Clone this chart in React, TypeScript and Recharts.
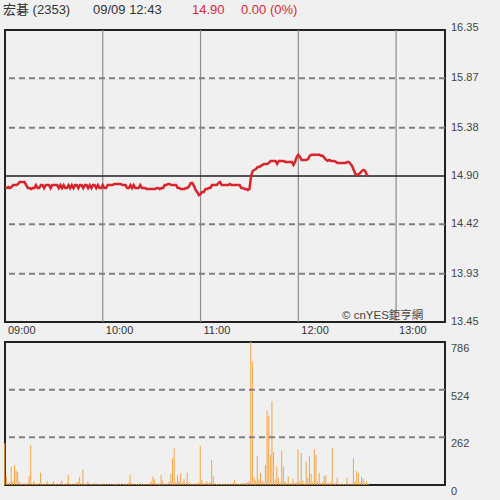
import { LineChart, Line, BarChart, Bar, XAxis, YAxis, ReferenceLine, ReferenceArea } from 'recharts';

// 開盤後分鐘數 (09:00 = 0)
const timeTicks = [0, 60, 120, 180, 240];
const timeLabels = ['09:00', '10:00', '11:00', '12:00', '13:00'];

const priceTicks = [13.45, 13.93, 14.42, 14.9, 15.38, 15.87, 16.35];
const priceDashed = [13.93, 14.42, 15.38, 15.87];
const refPrice = 14.9;

const volumeTicks = [0, 262, 524, 786];
const volumeDashed = [262, 524];

// 每分鐘成交價 09:00 ~ 12:43
const prices = [
  14.78, 14.78, 14.79, 14.78, 14.79, 14.81, 14.81, 14.81, 14.82, 14.84,
  14.84, 14.84, 14.84, 14.81, 14.78, 14.78, 14.77, 14.78, 14.78, 14.81,
  14.78, 14.78, 14.81, 14.81, 14.78, 14.81, 14.81, 14.81, 14.78, 14.81,
  14.81, 14.81, 14.81, 14.78, 14.81, 14.78, 14.81, 14.78, 14.78, 14.81,
  14.78, 14.81, 14.78, 14.81, 14.81, 14.78, 14.81, 14.81, 14.78, 14.81,
  14.81, 14.78, 14.81, 14.78, 14.81, 14.81, 14.78, 14.81, 14.78, 14.78,
  14.81, 14.78, 14.78, 14.81, 14.81, 14.81, 14.81, 14.82, 14.82, 14.82,
  14.82, 14.82, 14.81, 14.81, 14.81, 14.78, 14.78, 14.81, 14.78, 14.81,
  14.78, 14.78, 14.78, 14.81, 14.78, 14.78, 14.78, 14.77, 14.77, 14.77,
  14.77, 14.77, 14.77, 14.78, 14.78, 14.77, 14.78, 14.78, 14.81, 14.81,
  14.82, 14.82, 14.81, 14.81, 14.81, 14.81, 14.78, 14.78, 14.77, 14.77,
  14.77, 14.78, 14.78, 14.8, 14.83, 14.83, 14.8, 14.76, 14.74, 14.71,
  14.72, 14.74, 14.74, 14.77, 14.77, 14.78, 14.78, 14.81, 14.81, 14.81,
  14.81, 14.83, 14.84, 14.81, 14.81, 14.81, 14.81, 14.81, 14.82, 14.81,
  14.81, 14.81, 14.81, 14.81, 14.81, 14.78, 14.78, 14.77, 14.77, 14.76,
  14.77, 14.9, 14.95, 14.96, 14.97, 14.99, 14.99, 15.0, 15.01, 15.02,
  15.02, 15.02, 15.03, 15.05, 15.05, 15.05, 15.05, 15.02, 15.05, 15.05,
  15.05, 15.05, 15.04, 15.04, 15.04, 15.04, 15.04, 15.01, 15.04, 15.09,
  15.11, 15.09, 15.06, 15.06, 15.06, 15.06, 15.07, 15.1, 15.11, 15.11,
  15.11, 15.11, 15.11, 15.11, 15.1, 15.1, 15.08, 15.06, 15.05, 15.06,
  15.05, 15.05, 15.05, 15.04, 15.03, 15.03, 15.03, 15.03, 15.03, 15.03,
  15.04, 15.04, 15.02, 15.0, 14.96, 14.92, 14.91, 14.92, 14.93, 14.95,
  14.96, 14.95, 14.91, 14.9,
];

// 每分鐘成交量 (張)
const volumes = [
  230, 45, 10, 15, 100, 20, 110, 80, 70, 20,
  8, 5, 10, 6, 12, 50, 220, 10, 20, 8,
  5, 10, 68, 6, 8, 5, 20, 8, 6, 10,
  20, 5, 8, 6, 10, 25, 6, 5, 10, 55,
  8, 5, 6, 10, 12, 20, 45, 10, 86, 8,
  6, 20, 8, 5, 6, 10, 5, 4, 6, 5,
  8, 4, 5, 6, 3, 5, 4, 6, 5, 8,
  4, 5, 3, 6, 8, 5, 12, 55, 10, 5,
  4, 6, 5, 4, 8, 5, 6, 4, 5, 10,
  20, 48, 30, 8, 5, 10, 55, 25, 8, 6,
  10, 20, 60, 147, 200, 15, 55, 20, 65, 12,
  30, 10, 68, 15, 8, 6, 5, 10, 8, 12,
  214, 30, 10, 8, 20, 10, 15, 138, 50, 8,
  6, 5, 8, 6, 5, 4, 6, 5, 8, 6,
  10, 30, 8, 5, 6, 10, 8, 12, 10, 15,
  20, 786, 678, 40, 25, 160, 30, 65, 20, 15,
  110, 410, 380, 165, 462, 178, 30, 100, 40, 15,
  187, 100, 20, 10, 45, 8, 10, 35, 10, 15,
  196, 20, 176, 25, 10, 128, 40, 160, 60, 15,
  196, 165, 20, 68, 10, 15, 50, 55, 10, 8,
  12, 205, 10, 8, 40, 6, 5, 8, 5, 6,
  40, 8, 5, 10, 147, 20, 75, 65, 15, 45,
  35, 10, 20, 8,
];

const priceData = prices.map((p, i) => ({ t: i, p }));
const volumeData = volumes.map((v, i) => ({ t: i, v }));

const font = '"Liberation Sans", Arial, "Noto Sans CJK TC", sans-serif';

const TimeTick = ({ x, y, payload }: any) => (
  <text x={x + 3} y={y + 10} fontSize={11} fill="#333" fontFamily={font}>
    {timeLabels[timeTicks.indexOf(payload.value)]}
  </text>
);

const PriceTick = ({ x, y, payload }: any) => (
  <text x={x + 4} y={payload.value === 16.35 ? y + 1 : y + 3} fontSize={11} fill="#444" fontFamily={font}>
    {payload.value.toFixed(2)}
  </text>
);

const VolumeTick = ({ x, y, payload }: any) => (
  <text x={x + 4} y={y + 10} fontSize={11} fill="#444" fontFamily={font}>
    {payload.value}
  </text>
);

export default function App() {
  return (
    <div
      style={{
        position: 'fixed',
        top: 0,
        left: 0,
        width: 500,
        height: 500,
        background: '#f0f0f0',
        fontFamily: font,
        overflow: 'hidden',
      }}
    >
      <div style={{ position: 'absolute', top: 2, left: 3, fontSize: 13, lineHeight: '15px', color: '#333', whiteSpace: 'nowrap' }}>
        <span style={{ position: 'absolute', left: 0 }}>宏碁 (2353)</span>
        <span style={{ position: 'absolute', left: 90 }}>09/09 12:43</span>
        <span style={{ position: 'absolute', left: 189, color: '#d42a3c' }}>14.90</span>
        <span style={{ position: 'absolute', left: 238, color: '#d42a3c' }}>0.00 (0%)</span>
      </div>

      <div style={{ position: 'absolute', top: 0, left: 0 }}>
        <LineChart width={500} height={340} data={priceData} margin={{ top: 30, right: 0, bottom: 0, left: 5 }}>
          <XAxis
            dataKey="t"
            type="number"
            domain={[0, 270]}
            ticks={timeTicks}
            tick={TimeTick}
            tickLine={false}
            axisLine={false}
            tickSize={0}
            height={18}
          />
          <YAxis
            orientation="right"
            domain={[13.45, 16.35]}
            ticks={priceTicks}
            tick={PriceTick}
            tickLine={false}
            axisLine={false}
            tickSize={0}
            width={55}
            interval={0}
          />
          {timeTicks.slice(1).map((t) => (
            <ReferenceLine key={t} x={t} stroke="#8c8c8c" strokeWidth={1.2} />
          ))}
          {priceDashed.map((v) => (
            <ReferenceLine key={v} y={v} stroke="#808080" strokeWidth={2} strokeDasharray="6 4" />
          ))}
          <ReferenceLine y={refPrice} stroke="#222" strokeWidth={1.5} />
          <Line
            dataKey="p"
            type="linear"
            stroke="#d9242c"
            strokeWidth={2.5}
            dot={false}
            isAnimationActive={false}
          />
          <ReferenceArea x1={0} x2={270} y1={13.45} y2={16.35} fill="none" stroke="#222" strokeWidth={2} />
        </LineChart>
      </div>
      <div style={{ position: 'absolute', top: 306, left: 342, fontSize: 11.5, color: '#444', whiteSpace: 'nowrap' }}>
        © cnYES鉅亨網
      </div>

      <div style={{ position: 'absolute', top: 340, left: 0 }}>
        <BarChart width={500} height={160} data={volumeData} margin={{ top: 2, right: 0, bottom: 15, left: 5 }}>
          <XAxis dataKey="t" type="number" domain={[0, 270]} hide />
          <YAxis
            orientation="right"
            domain={[0, 786]}
            ticks={volumeTicks}
            tick={VolumeTick}
            tickLine={false}
            axisLine={false}
            tickSize={0}
            width={55}
            interval={0}
          />
          {volumeDashed.map((v) => (
            <ReferenceLine key={v} y={v} stroke="#808080" strokeWidth={2} strokeDasharray="6 4" />
          ))}
          <Bar dataKey="v" fill="#f5a443" barSize={1} isAnimationActive={false} />
          <ReferenceArea x1={0} x2={270} y1={0} y2={786} fill="none" stroke="#222" strokeWidth={2} />
        </BarChart>
      </div>
    </div>
  );
}
